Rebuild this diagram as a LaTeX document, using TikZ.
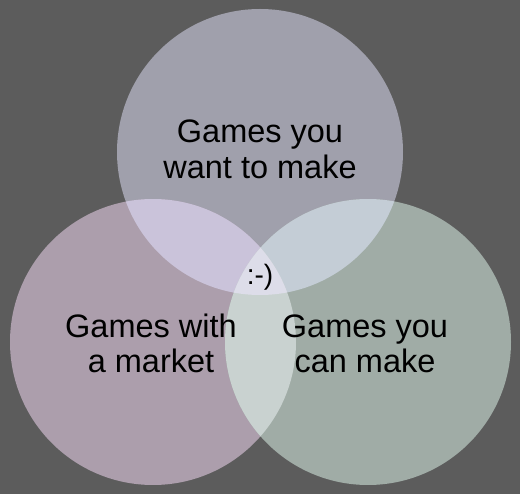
\documentclass[tikz,border=0pt]{standalone}
\usepackage{fontspec}
\setmainfont{Liberation Sans}
\definecolor{bgc}{RGB}{92,92,92}
\definecolor{topc}{RGB}{160,160,172}
\definecolor{leftc}{RGB}{172,158,172}
\definecolor{rightc}{RGB}{160,172,166}
\definecolor{tlc}{RGB}{202,195,218}
\definecolor{trc}{RGB}{196,205,214}
\definecolor{lrc}{RGB}{201,210,208}
\definecolor{allc}{RGB}{221,221,233}
\tikzset{
  label/.style={align=center, font=\fontsize{32.5}{36}\selectfont, text=black, inner sep=0pt, anchor=base},
  smile/.style={font=\fontsize{28}{30}\selectfont, text=black, inner sep=0pt, anchor=base}
}
\begin{document}
\begin{tikzpicture}[x=1pt,y=-1pt]
\fill[bgc] (0,0) rectangle (520,494);
\useasboundingbox (0,0) rectangle (520,494);
\def\R{143}
\coordinate (T) at (260,152);
\coordinate (L) at (153,342);
\coordinate (Rr) at (368,342);
\fill[topc] (T) circle (\R);
\fill[leftc] (L) circle (\R);
\fill[rightc] (Rr) circle (\R);
\begin{scope}
  \clip (T) circle (\R);
  \fill[tlc] (L) circle (\R);
  \fill[trc] (Rr) circle (\R);
\end{scope}
\begin{scope}
  \clip (L) circle (\R);
  \fill[lrc] (Rr) circle (\R);
  \clip (T) circle (\R);
  \fill[allc] (Rr) circle (\R);
\end{scope}
\node[label] (t1) at (260,143) {Games you};
\node[label] (t2) at (260,179) {want to make};
\node[label] (l1) at (151,338) {Games with};
\node[label] (l2) at (151,373) {a market};
\node[label] (r1) at (365,338) {Games you};
\node[label] (r2) at (365,373) {can make};
\node[smile] (s) at (260,285) {:-)};
\end{tikzpicture}
\end{document}
